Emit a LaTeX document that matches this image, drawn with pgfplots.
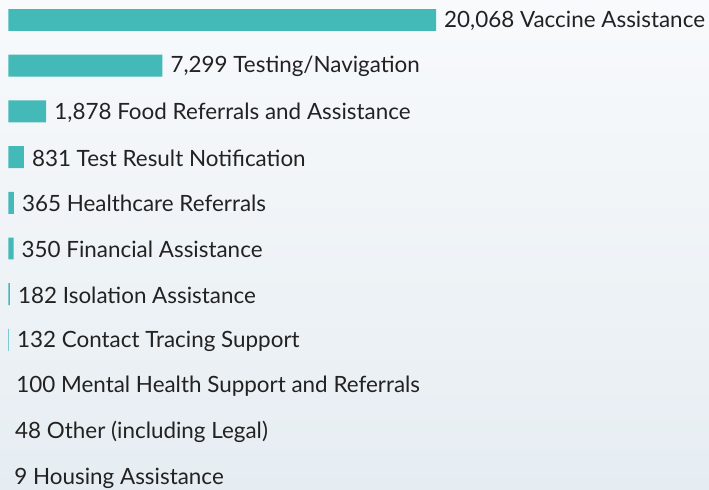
\documentclass[border=0pt]{standalone}
\usepackage{fontspec}
\setmainfont{Lato}
\usepackage{pgfplots}
\usepackage{pgfplotstable}
\pgfplotsset{compat=1.18}
\definecolor{barc}{RGB}{67,185,184}
\definecolor{bgtop}{RGB}{248,250,252}
\definecolor{bgbot}{RGB}{230,237,242}
\definecolor{txt}{RGB}{34,34,34}
\pgfplotstableread[col sep=semicolon]{
val;pos;label
20068;0;20,068 Vaccine Assistance
7299;1;7,299 Testing/Navigation
1878;2;1,878 Food Referrals and Assistance
831;3;831 Test Result Notification
365;4;365 Healthcare Referrals
350;5;350 Financial Assistance
182;6;182 Isolation Assistance
132;7;132 Contact Tracing Support
100;8;100 Mental Health Support and Referrals
48;9;48 Other (including Legal)
9;10;9 Housing Assistance
}\datatable
\pgfplotsset{common/.style={
  at={(8.3bp,0)}, anchor=south west,
  scale only axis, width=700.7bp, height=490bp,
  hide axis,
  xmin=107.3, xmax=32809,
  y dir=reverse, ymin=-0.4376, ymax=10.284,
  xbar, bar width=0.48, bar shift=0pt}}
\begin{document}
\begin{tikzpicture}
\shade[top color=bgtop, bottom color=bgbot] (0,0) rectangle (709bp,490bp);
\begin{axis}[common, clip=true, restrict x to domain=107.3:40000]
\addplot[fill=barc, draw=none] table[x=val, y=pos] {\datatable};
\end{axis}
\begin{axis}[common, clip=false,
  point meta=explicit symbolic,
  nodes near coords,
  nodes near coords style={anchor=west, inner sep=0pt, xshift=8bp, yshift=-1bp, font=\fontsize{22.5}{26}\selectfont, text=txt},
]
\addplot[fill=none, draw=none] table[x=val, y=pos, meta=label] {\datatable};
\end{axis}
\end{tikzpicture}
\end{document}
